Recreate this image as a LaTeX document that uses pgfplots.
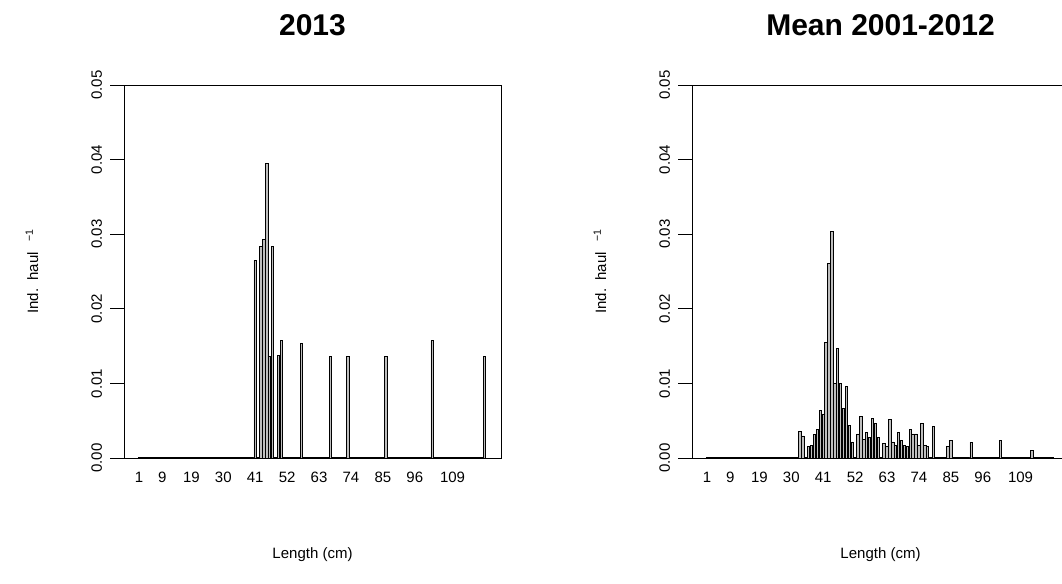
\documentclass[border=0pt]{standalone}
\usepackage{pgfplots}
\pgfplotsset{compat=1.18}
\usepackage{fontspec}
\setmainfont{Liberation Sans}
\definecolor{bargray}{HTML}{BEBEBE}
\pgfplotsset{
  rplot/.style={
    scale only axis, width=282.75pt, height=279.75pt,
    xmin=-4.21, xmax=125.71, ymin=0, ymax=0.05,
    clip=false, scaled y ticks=false,
    axis line style={line width=0.75pt},
    ytick={0,0.01,0.02,0.03,0.04,0.05},
    yticklabels={0.00,0.01,0.02,0.03,0.04,0.05},
    ytick pos=left, tick align=outside, major tick length=10.5pt,
    every tick/.style={black, line width=0.75pt},
    xtick={1,9,19,30,41,52,63,74,85,96,109},
    xticklabels={1,9,19,30,41,52,63,74,85,96,109},
    xtick style={draw=none},
    /pgf/number format/assume math mode=true,
    tick label style={font=\fontsize{11.25}{13.5}\selectfont},
    xticklabel style={anchor=center, yshift=-4pt},
    yticklabel style={anchor=center, xshift=-10pt, rotate=90},
    label style={font=\fontsize{11.25}{13.5}\selectfont},
    xlabel={Length (cm)},
    xlabel style={at={(axis description cs:0.5,-0.26)}, anchor=center},
    ylabel={Ind.\ \ haul\ \ \textsuperscript{\,−1}},
    ylabel style={at={(axis description cs:-0.244,0.5)}, anchor=center},
    title style={at={(axis description cs:0.5,1.139)}, anchor=center, font=\bfseries\fontsize{22.5}{27}\selectfont},
  },
  rbar/.style={ybar, bar width=0.8333, bar shift=0pt, fill=bargray, draw=black, line width=0.7pt},
  rbase/.style={black, line width=1.2pt, forget plot},
}
\begin{document}
\begin{tikzpicture}
\begin{axis}[rplot, title={2013}, at={(93pt,93.75pt)}, anchor=south west]
\addplot[rbase] coordinates {(0.5833,0) (120.4167,0)};
\addplot[rbar] coordinates {
(41,0.0265) (43,0.0284) (44,0.0293) (45,0.0395) (46,0.0136) (47,0.0284)
(49,0.0137) (50,0.0157) (57,0.0153) (67,0.0136) (73,0.0136) (86,0.0136)
(102,0.0157) (120,0.0136)};
\end{axis}
\begin{axis}[rplot, title={Mean 2001-2012}, at={(519pt,93.75pt)}, anchor=south west]
\addplot[rbase] coordinates {(0.5833,0) (120.4167,0)};
\addplot[rbar] coordinates {
(33,0.00357) (34,0.00295) (36,0.00152) (37,0.00174) (38,0.00317) (39,0.00384)
(40,0.0064) (41,0.0059) (42,0.01553) (43,0.02605) (44,0.03035) (45,0.01002)
(46,0.01464) (47,0.01002) (48,0.00658) (49,0.00953) (50,0.0043) (51,0.00215)
(53,0.00322) (54,0.00555) (55,0.0025) (56,0.0034) (57,0.00277) (58,0.00532)
(59,0.00465) (60,0.00277) (62,0.00192) (63,0.00152) (64,0.0051) (65,0.00215)
(66,0.0017) (67,0.0034) (68,0.00232) (69,0.0017) (70,0.00152) (71,0.00384)
(72,0.00322) (73,0.00322) (74,0.0017) (75,0.00465) (76,0.0017) (77,0.00152)
(79,0.0042) (84,0.00152) (85,0.00232) (92,0.0021) (102,0.00232) (113,0.00107)};
\end{axis}
\pgfresetboundingbox
\path[use as bounding box] (0,0) rectangle (796.5pt,437.25pt);
\end{tikzpicture}
\end{document}
